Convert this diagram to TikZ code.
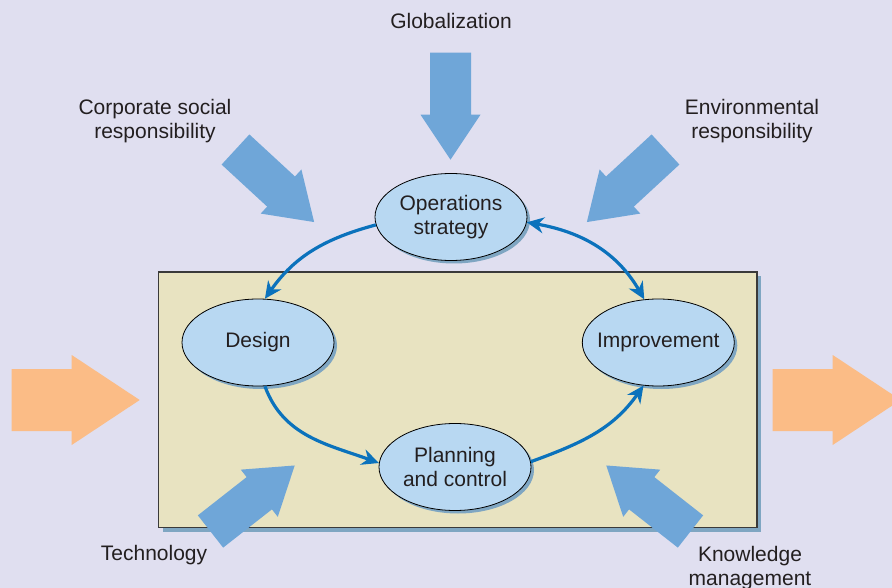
\documentclass[tikz,border=0pt]{standalone}
\usepackage{fontspec}
\setmainfont{Liberation Sans}
\usetikzlibrary{arrows.meta,shapes.geometric,shadows}
\definecolor{bgc}{HTML}{E0DFF0}
\definecolor{boxc}{HTML}{E8E3C1}
\definecolor{boxline}{HTML}{3A3A3A}
\definecolor{shadowc}{HTML}{7FA6C2}
\definecolor{ellc}{HTML}{B8D8F2}
\definecolor{connc}{HTML}{0B72BC}
\definecolor{bluea}{HTML}{6FA6D8}
\definecolor{orangea}{HTML}{FBBC86}
\definecolor{textc}{HTML}{231F20}
\tikzset{
  framebox/.style={draw=boxline, line width=1.2pt, fill=boxc, minimum width=598.5pt, minimum height=255.5pt, inner sep=0pt,
    general shadow={fill=shadowc, shadow xshift=4pt, shadow yshift=-4pt}},
  ell/.style={ellipse, draw=black, line width=0.8pt, fill=ellc, minimum width=152pt, minimum height=87pt, inner sep=0pt,
    general shadow={fill=shadowc, shadow xshift=3pt, shadow yshift=-3pt}},
  txt/.style={font=\fontsize{21}{24}\selectfont, text=textc, align=center, inner sep=0pt},
  conn/.style={draw=connc, line width=3.2pt},
  tip/.tip={Stealth[length=17pt, width=16pt, inset=5.5pt]},
  bluearrow/.pic={\fill[bluea] (0,-20.5) -- (62,-20.5) -- (62,-30) -- (107,0) -- (62,30) -- (62,20.5) -- (0,20.5) -- cycle;},
  orangearrow/.pic={\fill[orangea] (0,-31) -- (60,-31) -- (60,-45) -- (128,0) -- (60,45) -- (60,31) -- (0,31) -- cycle;}
}
\begin{document}
\begin{tikzpicture}[x=1pt, y=1pt]
\useasboundingbox (0,0) rectangle (892,-588);
\clip (0,0) rectangle (892,-588);
\fill[bgc] (0,0) rectangle (892,-588);
% frame
\node[framebox] (frame) at (457.75,-399.75) {};
% big input arrows
\pic[rotate=-90] at (450.5,-52.7) {bluearrow};
\pic[rotate=-42.7] at (235.5,-149.5) {bluearrow};
\pic[rotate=-137.3] at (665.5,-149.5) {bluearrow};
\pic[rotate=38.1] at (210.5,-531.5) {bluearrow};
\pic[rotate=141.9] at (690.5,-531.5) {bluearrow};
\pic at (11.7,-400) {orangearrow};
\pic at (772.7,-400) {orangearrow};
% ellipses
\node[ell] (ops) at (451,-217) {};
\node[ell] (design) at (258,-342.5) {};
\node[ell] (imp) at (658.3,-342.5) {};
\node[ell] (plan) at (455,-467) {};
\node[txt] (opst) at (ops) {Operations\\strategy};
\node[txt] (designt) at (design) {Design};
\node[txt] (impt) at (imp) {Improvement};
\node[txt] (plant) at (plan) {Planning\\and control};
% connectors
\draw[conn, -tip] (ops.186) to[out=195, in=55] (design.81);
\draw[conn, tip-tip] (ops.-4.5) to[out=-10, in=120] (imp.108.6);
\draw[conn, -tip] (design.-81) to[out=-70, in=160] (plan.177);
\draw[conn, -tip] (plan.4) to[out=20, in=-125] (imp.-109);
% labels
\node[txt] (glob) at (451,-21) {Globalization};
\node[txt] (csr) at (155,-121) {Corporate social\\responsibility};
\node[txt] (env) at (752,-121) {Environmental\\responsibility};
\node[txt] (tech) at (154,-555) {Technology};
\node[txt] (know) at (750,-568) {Knowledge\\management};
\end{tikzpicture}
\end{document}
